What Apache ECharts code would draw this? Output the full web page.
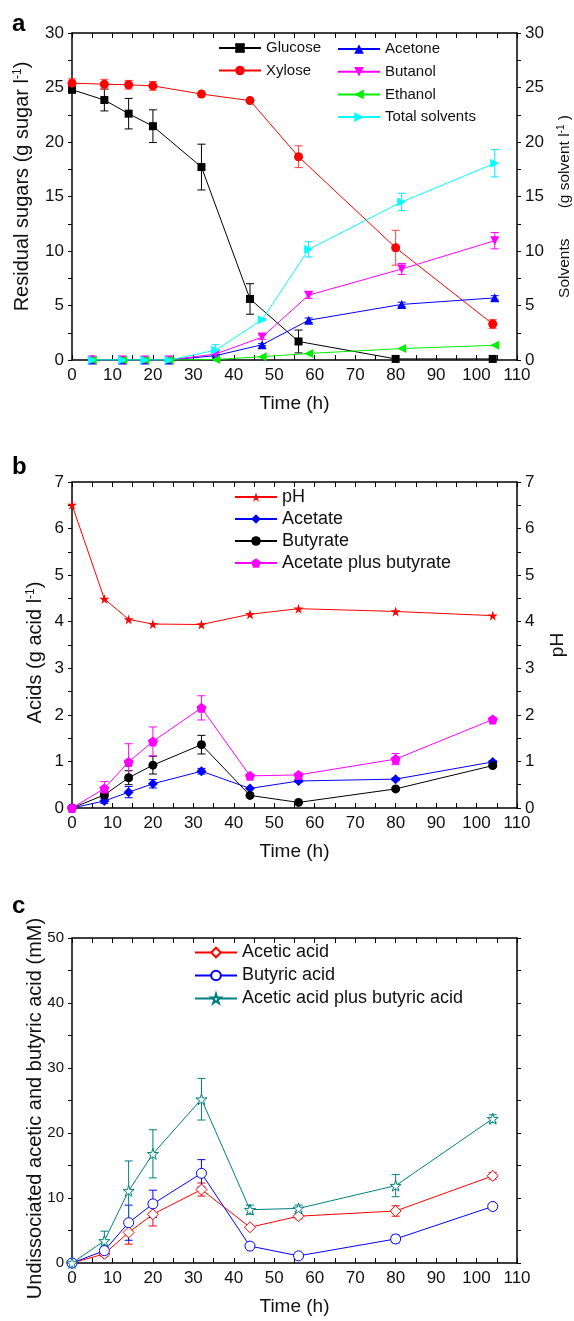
<!DOCTYPE html>
<html>
<head>
<meta charset="utf-8">
<script src="https://cdn.jsdelivr.net/npm/echarts@6/dist/echarts.min.js"></script>
<style>
  html, body { margin: 0; padding: 0; background: #fff; }
  #chart { width: 574px; height: 1321px; }
</style>
</head>
<body>
<div id="chart"></div>
<script>
// panel a - sugars and solvents
var sugarTime = [0, 8, 14, 20, 32, 44, 56, 80, 104];
var glucose = [24.8, 23.85, 22.6, 21.45, 17.7, 5.6, 1.7, 0.1, 0.1];
var glucoseErr = [0.3, 1.0, 1.4, 1.5, 2.1, 1.4, 1.05, 0, 0];
var xylose = [25.4, 25.3, 25.25, 25.15, 24.4, 23.8, 18.65, 10.3, 3.3];
var xyloseErr = [0.4, 0.45, 0.4, 0.4, 0, 0, 1.0, 1.6, 0.4];

var solventTime = [5, 12.5, 18, 24, 35.5, 47, 58.5, 81.5, 104.5];
var acetone = [0, 0, 0, 0, 0.4, 1.4, 3.65, 5.1, 5.7];
var acetoneErr = [0, 0, 0, 0, 0.1, 0.1, 0.2, 0.2, 0.2];
var butanol = [0, 0, 0, 0, 0.55, 2.1, 5.95, 8.35, 10.95];
var butanolErr = [0, 0, 0, 0, 0.2, 0.2, 0.3, 0.5, 0.75];
var ethanol = [0, 0, 0, 0, 0.05, 0.3, 0.6, 1.05, 1.35];
var totalSolvents = [0, 0, 0, 0, 0.9, 3.7, 10.15, 14.5, 18.05];
var totalErr = [0, 0, 0, 0, 0.5, 0.1, 0.7, 0.8, 1.25];

// panel b - acids and pH
var acidTime = [0, 8, 14, 20, 32, 44, 56, 80, 104];
var pH = [6.51, 4.49, 4.05, 3.95, 3.94, 4.16, 4.28, 4.22, 4.13];
var acetate = [0, 0.15, 0.34, 0.52, 0.79, 0.42, 0.58, 0.62, 0.99];
var acetateErr = [0, 0.05, 0.12, 0.09, 0.06, 0, 0.03, 0.03, 0.03];
var butyrate = [0, 0.28, 0.65, 0.92, 1.36, 0.27, 0.12, 0.41, 0.91];
var butyrateErr = [0, 0.05, 0.15, 0.19, 0.2, 0, 0, 0, 0.03];
var acidSum = [0, 0.42, 0.99, 1.43, 2.15, 0.69, 0.71, 1.05, 1.9];
var acidSumErr = [0, 0.15, 0.39, 0.31, 0.26, 0, 0, 0.12, 0.03];

// panel c - undissociated acids
var aceticUnd = [0, 1.4, 4.7, 7.5, 11.3, 5.5, 7.2, 8.0, 13.4];
var aceticUndErr = [0, 0.4, 1.8, 1.8, 1.0, 0, 0.4, 0.8, 0.5];
var butyricUnd = [0, 1.9, 6.2, 9.1, 13.8, 2.6, 1.1, 3.7, 8.7];
var butyricUndErr = [0, 0.5, 2.7, 2.1, 2.1, 0, 0.3, 0.6, 0.4];
var sumUnd = [0, 3.4, 11.1, 16.8, 25.2, 8.2, 8.4, 11.9, 22.2];
var sumUndErr = [0, 1.5, 4.6, 3.7, 3.2, 0.7, 0.5, 1.7, 0.6];

var FONT = 'Liberation Sans';
var TXT = '#111';
var STAR = 'path://M50,0 L61,35 L98,35 L68,57 L79,91 L50,70 L21,91 L32,57 L2,35 L39,35 Z';
var PENTA = 'path://M50,0 L100,38 L81,100 L19,100 L0,38 Z';

function pairs(t, v) {
  var out = [];
  for (var i = 0; i < t.length; i++) out.push([t[i], v[i]]);
  return out;
}
function errPairs(t, v, e) {
  var out = [];
  for (var i = 0; i < t.length; i++) if (e[i] > 0) out.push([t[i], v[i], e[i]]);
  return out;
}

function xAxes(grid) {
  return [{
    gridIndex: grid, type: 'value', min: 0, max: 110, interval: 10,
    name: 'Time (h)', nameLocation: 'middle', nameGap: 34, nameMoveOverlap: false,
    nameTextStyle: { fontSize: 19, fontFamily: FONT, color: TXT },
    axisLine: { onZero: false, lineStyle: { color: '#000', width: 1.5 } },
    axisTick: { inside: true, length: 5, lineStyle: { color: '#000' } },
    minorTick: { show: true, splitNumber: 2, length: 5, lineStyle: { color: '#000' } },
    axisLabel: { fontSize: 17, fontFamily: FONT, color: TXT, margin: 7 },
    splitLine: { show: false }
  }, {
    gridIndex: grid, type: 'value', position: 'top', min: 0, max: 110, interval: 10,
    axisLine: { onZero: false, lineStyle: { color: '#000', width: 1.5 } },
    axisTick: { inside: true, length: 5, lineStyle: { color: '#000' } },
    minorTick: { show: true, splitNumber: 2, length: 5, lineStyle: { color: '#000' } },
    axisLabel: { show: false },
    splitLine: { show: false }
  }];
}

function yAxis(grid, pos, max, interval, name, gap, pad, labelSize, nameSize) {
  return {
    gridIndex: grid, type: 'value', position: pos, min: 0, max: max, interval: interval,
    name: name, nameLocation: 'middle', nameGap: gap, nameMoveOverlap: false,
    nameTextStyle: {
      fontSize: nameSize, fontFamily: FONT, color: TXT, padding: pad,
      rich: { sup: { fontSize: Math.round(nameSize * 0.62), fontFamily: FONT, color: TXT, verticalAlign: 'top', padding: [0, 0, 8, 0] } }
    },
    axisLine: { onZero: false, lineStyle: { color: '#000', width: 1.5 } },
    axisTick: { length: 4, lineStyle: { color: '#000' } },
    minorTick: { show: true, splitNumber: 2, length: 4, lineStyle: { color: '#000' } },
    axisLabel: { show: labelSize > 0, fontSize: labelSize || 16, fontFamily: FONT, color: TXT, margin: 8 },
    splitLine: { show: false }
  };
}

function lineSeries(name, xi, yi, data, color, symbol, size, extra) {
  var s = {
    name: name, type: 'line', xAxisIndex: xi, yAxisIndex: yi, data: data,
    symbol: symbol, symbolSize: size, showAllSymbol: true, z: 3,
    lineStyle: { color: color, width: 1 },
    itemStyle: { color: color }
  };
  if (extra) for (var k in extra) s[k] = extra[k];
  return s;
}

function errSeries(xi, yi, data, color) {
  return {
    type: 'custom', xAxisIndex: xi, yAxisIndex: yi, data: data, z: 2, silent: true,
    renderItem: function (params, api) {
      var x = api.value(0), y = api.value(1), e = api.value(2);
      var hi = api.coord([x, y + e]);
      var lo = api.coord([x, y - e]);
      var w = 4;
      var st = { stroke: color, lineWidth: 1 };
      return {
        type: 'group',
        children: [
          { type: 'line', shape: { x1: hi[0], y1: hi[1], x2: lo[0], y2: lo[1] }, style: st },
          { type: 'line', shape: { x1: hi[0] - w, y1: hi[1], x2: hi[0] + w, y2: hi[1] }, style: st },
          { type: 'line', shape: { x1: lo[0] - w, y1: lo[1], x2: lo[0] + w, y2: lo[1] }, style: st }
        ]
      };
    }
  };
}

function legend(names, left, top, gap, size) {
  return {
    data: names, orient: 'vertical', left: left, top: top, padding: 0,
    itemWidth: 42, itemHeight: 12, itemGap: gap,
    textStyle: { fontSize: size, fontFamily: FONT, color: TXT }
  };
}

var openStyle = function (c) { return { color: '#fff', borderColor: c, borderWidth: 1 }; };

var chart = echarts.init(document.getElementById('chart'));
var option = {
  animation: false,
  backgroundColor: '#fff',
  grid: [
    { left: 72, right: 57, top: 33, height: 327, outerBoundsMode: 'none', containLabel: false },
    { left: 72, right: 57, top: 482, height: 326, outerBoundsMode: 'none', containLabel: false },
    { left: 72, right: 57, top: 938, height: 325, outerBoundsMode: 'none', containLabel: false }
  ],
  xAxis: [].concat(xAxes(0), xAxes(1), xAxes(2)),
  yAxis: [
    yAxis(0, 'left', 30, 5, 'Residual sugars (g sugar l{sup|-1})', 40, [0, 0, 0, 20], 17, 20),
    yAxis(0, 'right', 30, 5, 'Solvents       (g solvent l{sup|-1} )', 39, [0, 20, 0, 0], 17, 15.5),
    yAxis(1, 'left', 7, 1, 'Acids (g acid l{sup|-1})', 27, [0, 15, 0, 0], 17, 20),
    yAxis(1, 'right', 7, 1, 'pH', 31, 0, 17, 19),
    yAxis(2, 'left', 50, 10, 'Undissociated acetic and butyric acid (mM)', 27, [0, 16, 0, 0], 15, 20),
    yAxis(2, 'right', 50, 10, '', 30, 0, 0, 16)
  ],
  legend: [
    legend(['Glucose', 'Xylose'], 218, 40.5, 7.5, 15),
    legend(['Acetone', 'Butanol', 'Ethanol', 'Total solvents'], 337, 41.5, 7.7, 15),
    legend(['pH', 'Acetate', 'Butyrate', 'Acetate plus butyrate'], 234, 488, 4, 18),
    legend(['Acetic acid', 'Butyric acid', 'Acetic acid plus butyric acid'], 194, 943.5, 5, 18)
  ],
  graphic: [
    { type: 'text', left: 12, top: 12, style: { text: 'a', font: 'bold 24px "Liberation Sans"', fill: '#000' } },
    { type: 'text', left: 12, top: 455, style: { text: 'b', font: 'bold 24px "Liberation Sans"', fill: '#000' } },
    { type: 'text', left: 12, top: 894, style: { text: 'c', font: 'bold 24px "Liberation Sans"', fill: '#000' } }
  ],
  series: [
    // panel a
    errSeries(0, 0, errPairs(sugarTime, glucose, glucoseErr), '#000'),
    errSeries(0, 0, errPairs(sugarTime, xylose, xyloseErr), '#ff4040'),
    errSeries(0, 1, errPairs(solventTime, acetone, acetoneErr), '#0000ff'),
    errSeries(0, 1, errPairs(solventTime, butanol, butanolErr), '#ff00ff'),
    errSeries(0, 1, errPairs(solventTime, totalSolvents, totalErr), '#00e5ff'),
    lineSeries('Glucose', 0, 0, pairs(sugarTime, glucose), '#000', 'rect', 8),
    lineSeries('Xylose', 0, 0, pairs(sugarTime, xylose), '#ff0000', 'circle', 9),
    lineSeries('Acetone', 0, 1, pairs(solventTime, acetone), '#0000ff', 'triangle', 9),
    lineSeries('Butanol', 0, 1, pairs(solventTime, butanol), '#ff00ff', 'triangle', 9, { symbolRotate: 180 }),
    lineSeries('Ethanol', 0, 1, pairs(solventTime, ethanol), '#00ee00', 'triangle', 9, { symbolRotate: 90 }),
    lineSeries('Total solvents', 0, 1, pairs(solventTime, totalSolvents), '#00ffff', 'triangle', 9, { symbolRotate: -90 }),
    // panel b
    errSeries(2, 2, errPairs(acidTime, acetate, acetateErr), '#0000ff'),
    errSeries(2, 2, errPairs(acidTime, butyrate, butyrateErr), '#000'),
    errSeries(2, 2, errPairs(acidTime, acidSum, acidSumErr), '#ff00ff'),
    lineSeries('pH', 2, 3, pairs(acidTime, pH), '#ff0000', STAR, 10),
    lineSeries('Acetate', 2, 2, pairs(acidTime, acetate), '#0000ff', 'diamond', 10),
    lineSeries('Butyrate', 2, 2, pairs(acidTime, butyrate), '#000', 'circle', 9),
    lineSeries('Acetate plus butyrate', 2, 2, pairs(acidTime, acidSum), '#ff00ff', PENTA, 10),
    // panel c
    errSeries(4, 4, errPairs(acidTime, aceticUnd, aceticUndErr), '#ff0000'),
    errSeries(4, 4, errPairs(acidTime, butyricUnd, butyricUndErr), '#0000ff'),
    errSeries(4, 4, errPairs(acidTime, sumUnd, sumUndErr), '#008080'),
    lineSeries('Acetic acid', 4, 4, pairs(acidTime, aceticUnd), '#ff0000', 'diamond', 11, { itemStyle: openStyle('#ff0000') }),
    lineSeries('Butyric acid', 4, 4, pairs(acidTime, butyricUnd), '#0000ff', 'circle', 10, { itemStyle: openStyle('#0000ff') }),
    lineSeries('Acetic acid plus butyric acid', 4, 4, pairs(acidTime, sumUnd), '#008080', STAR, 11, { itemStyle: openStyle('#008080') })
  ]
};
chart.setOption(option);
</script>
</body>
</html>
